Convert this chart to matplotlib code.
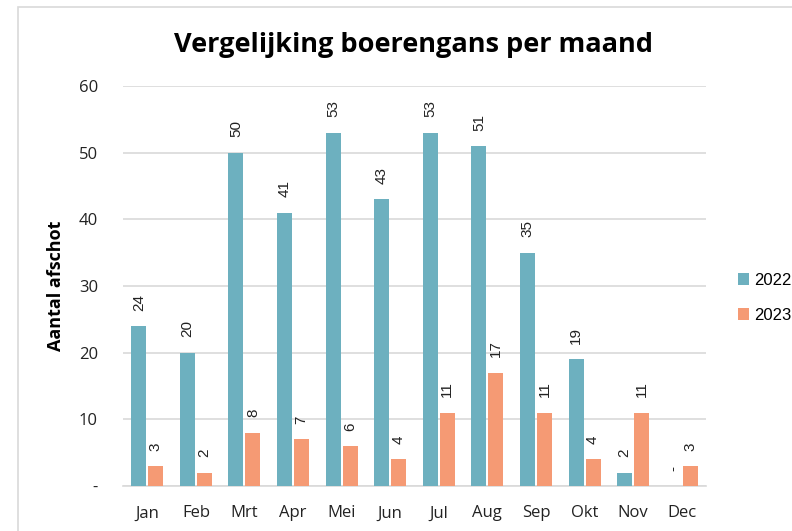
import matplotlib
matplotlib.use("Agg")
import matplotlib.pyplot as plt
from matplotlib.patches import Rectangle
import numpy as np

months = ["Jan", "Feb", "Mrt", "Apr", "Mei", "Jun", "Jul", "Aug", "Sep", "Okt", "Nov", "Dec"]
v2022 = [24, 20, 50, 41, 53, 43, 53, 51, 35, 19, 2, 0]
v2023 = [3, 2, 8, 7, 6, 4, 11, 17, 11, 4, 11, 3]
series_names = ["2022", "2023"]
yticks = [0, 10, 20, 30, 40, 50, 60]
ytick_labels = ["-", "10", "20", "30", "40", "50", "60"]

c2022 = "#6DB0BF"
c2023 = "#F59A74"
grid_c = "#D9D9D9"

fig = plt.figure(figsize=(7.92, 5.31), dpi=100)
fig.patches.append(Rectangle((18/792, -0.1), 1.2, 1 - 7/531 + 0.1, transform=fig.transFigure,
                             fill=False, edgecolor="#D9D9D9", linewidth=1.2))
ax = fig.add_axes([123/792, 1 - 486/531, (706-123)/792, (486-86)/531])

x = np.arange(len(months))
w = 0.31
gap = 0.02
b1 = ax.bar(x - w/2 - gap, v2022, w, color=c2022, label=series_names[0], zorder=3)
b2 = ax.bar(x + w/2 + gap, v2023, w, color=c2023, label=series_names[1], zorder=3)

for bars, vals in ((b1, v2022), (b2, v2023)):
    for r, v in zip(bars, vals):
        txt = "-" if v == 0 else str(v)
        ax.annotate(txt, (r.get_x() + r.get_width()/2, r.get_height()),
                    xytext=(0, 11), textcoords="offset points", rotation=90,
                    ha="center", va="bottom", fontsize=11, color="#222222",
                    family="Liberation Sans")

ax.set_xlim(-0.5, len(months) - 0.5)
ax.set_ylim(0, 60)
ax.set_yticks(yticks)
ax.set_yticklabels(ytick_labels)
ax.set_xticks(x)
ax.set_xticklabels(months)
ax.yaxis.grid(True, color=grid_c, linewidth=1.2, zorder=0)
ax.set_axisbelow(True)
for s in ("top", "right", "left"):
    ax.spines[s].set_visible(False)
ax.spines["bottom"].set_color(grid_c)
ax.spines["bottom"].set_linewidth(1.2)
ax.tick_params(axis="both", length=0, labelsize=12, colors="#222222")
ax.tick_params(axis="y", pad=18)
ax.tick_params(axis="x", pad=14)
for lab in ax.get_xticklabels() + ax.get_yticklabels():
    lab.set_family("Open Sans")

ax.set_ylabel("Aantal afschot", fontsize=13, fontweight="bold", family="Open Sans", labelpad=10)

fig.text(414/792, 1 - 45/531, "Vergelijking boerengans per maand", ha="center", va="center",
         fontsize=19.5, fontweight="bold", family="Open Sans")

leg = fig.legend(handles=[b1, b2], labels=series_names, loc="center left",
                 bbox_to_anchor=(731/792, 1 - 298/531), frameon=False,
                 prop={"family": "Liberation Sans", "size": 12},
                 handlelength=0.7, handleheight=0.7, handletextpad=0.3, labelspacing=1.2,
                 borderpad=0.2, borderaxespad=0.2)

fig.savefig("out.png", dpi=100)
